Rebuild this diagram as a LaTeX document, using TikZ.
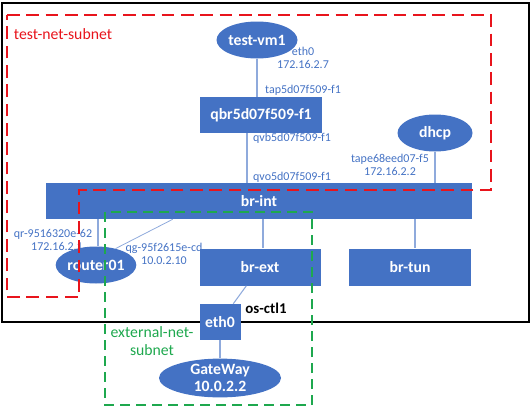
\documentclass[tikz,border=0pt]{standalone}
\usepackage{fontspec}
\setmainfont{Carlito}
\usetikzlibrary{shapes.geometric}

\definecolor{nodeblue}{HTML}{4472C4}
\definecolor{linkblue}{HTML}{8FAADC}
\definecolor{subnetred}{HTML}{E8141C}
\definecolor{subnetgreen}{HTML}{1EA84E}

\tikzset{
    box/.style={rectangle, fill=nodeblue, text=white, font=\bfseries\fontsize{11.8}{13}\selectfont, inner sep=0pt},
    host/.style={ellipse, fill=nodeblue, text=white, font=\bfseries\fontsize{11.8}{12.75}\selectfont, inner sep=0pt, align=center},
    port/.style={text=nodeblue, font=\fontsize{9}{9.75}\selectfont, align=center, inner sep=0pt},
    link/.style={draw=linkblue, line width=0.8pt},
}

\begin{document}
\begin{tikzpicture}[x=0.75pt, y=-0.75pt]
    \useasboundingbox (0,0) rectangle (531,407);

    \draw[line width=1.6pt] (2,3) rectangle (529,322); % os-ctl1 host

    % Nodes
    \node[host, minimum width=56.25pt, minimum height=27.75pt] (vm) at (257,40) {test-vm1};
    \node[box, minimum width=91.5pt, minimum height=27pt] (qbr) at (261,115) {qbr5d07f509-f1};
    \node[host, minimum width=56.25pt, minimum height=27.75pt] (dhcp) at (435,133) {dhcp};
    \node[box, minimum width=319.5pt, minimum height=27pt] (brint) at (259,201) {br-int};
    \node[host, minimum width=56.25pt, minimum height=27.75pt] (router) at (96,265) {router01};
    \node[box, minimum width=90.75pt, minimum height=27.75pt] (brext) at (260,267) {br-ext};
    \node[box, minimum width=91.5pt, minimum height=27.75pt] (brtun) at (410,267) {br-tun};
    \node[box, minimum width=30.75pt, minimum height=27pt] (eth) at (220,322) {eth0};
    \node[host, minimum width=91.5pt, minimum height=27pt] (gw) at (220,378) {GateWay\\10.0.2.2};

    % Links
    \draw[link] (vm) -- (vm |- qbr.north);
    \draw[link] ([xshift=-10.5pt]qbr.south) -- ([xshift=-10.5pt]qbr.south |- brint.north);
    \draw[link] (dhcp) -- (dhcp |- brint.north);
    \draw[link] ([xshift=1.5pt]router.north) -- ([xshift=1.5pt]router.north |- brint.south);
    \draw[link, line width=0.6pt] (router.40) -- ([xshift=95.25pt]brint.south west);
    \draw[link] ([xshift=2.25pt]brext.north) -- ([xshift=2.25pt]brext.north |- brint.south);
    \draw[link] ([xshift=3.75pt]brtun.north) -- ([xshift=3.75pt]brtun.north |- brint.south);
    \draw[link] (brext) -- (eth);
    \draw[link] (eth) -- (gw);

    % Port labels
    \node[port] (vmport) at (303,58) {eth0\\172.16.2.7};
    \node[port] (tap) at (303,90) {tap5d07f509-f1};
    \node[port] (qvb) at (292,138) {qvb5d07f509-f1};
    \node[port] (qvo) at (292,177) {qvo5d07f509-f1};
    \node[port] (dhcpport) at (390,165) {tape68eed07-f5\\172.16.2.2};
    \node[port] (qr) at (53,240) {qr-9516320e-62\\\hspace*{6pt}172.16.2.1};
    \node[port] (qg) at (164,254) {qg-95f2615e-cd\\10.0.2.10};
    \node[font=\bfseries\fontsize{11.2}{13}\selectfont, inner sep=0pt] (host) at (266,308) {os-ctl1};

    % Subnets
    \draw[subnetred, line width=1.9pt, dash pattern=on 9.5pt off 5pt]
        (7,15) -- (491,15) -- (491,190) -- (79,190) -- (79,297) -- (7,297) -- cycle;
    \node[text=subnetred, font=\fontsize{11.8}{13}\selectfont, inner sep=0pt] (testnet) at (63,34) {test-net-subnet};
    \draw[subnetgreen, line width=1.5pt, dash pattern=on 7.5pt off 4.5pt]
        (105,212) rectangle (312,405);
    \node[text=subnetgreen, font=\fontsize{11.8}{13.5}\selectfont, align=center, inner sep=0pt] (extnet) at (152,341) {external-net-\\subnet};
\end{tikzpicture}
\end{document}
